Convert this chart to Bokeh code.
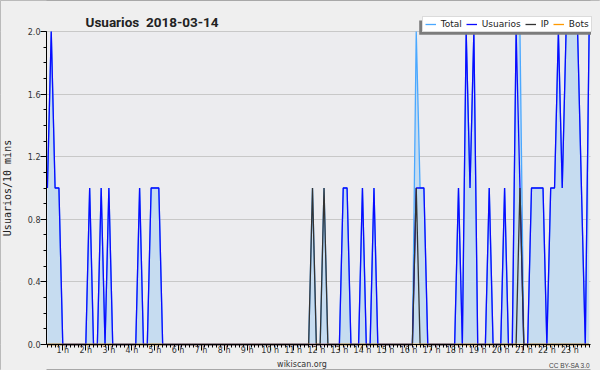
from bokeh.plotting import figure
from bokeh.models import (FixedTicker, Legend, LegendItem, BoxAnnotation, Label,
                          Range1d, ColumnDataSource)
from bokeh.embed import file_html
from bokeh.resources import INLINE

# ---- data: 10-minute samples (index 0 = 00:20) ----
usuarios = [1, 2, 1, 1, 0, 0, 0, 0, 0, 0,
            0, 1, 0, 0, 1, 0, 1, 0, 0, 0,
            0, 0, 0, 0, 1, 0, 0, 1, 1, 1,
            0, 0, 0, 0, 0, 0, 0, 0, 0, 0,
            0, 0, 0, 0, 0, 0, 0, 0, 0, 0,
            0, 0, 0, 0, 0, 0, 0, 0, 0, 0,
            0, 0, 0, 0, 0, 0, 0, 0, 0, 0,
            0, 0, 0, 0, 0, 0, 0, 1, 1, 0,
            0, 0, 1, 0, 0, 1, 0, 0, 0, 0,
            0, 0, 0, 0, 0, 0, 1, 1, 1, 0,
            0, 0, 0, 0, 0, 0, 0, 1, 0, 2,
            1, 2, 0, 0, 0, 1, 0, 0, 0, 1,
            0, 0, 2, 1, 0, 0, 1, 1, 1, 1,
            0, 1, 1, 2, 1, 2, 2, 2, 2, 1,
            0, 2]
ip = [0] * len(usuarios)
for k in (69, 72, 96, 123):
    ip[k] = 1
bots = [0] * len(usuarios)
total = [u + i + b for u, i, b in zip(usuarios, ip, bots)]
idx = list(range(len(usuarios)))

hours = list(range(1, 24))
hour_ticks = [6 * h - 2 for h in hours]
hour_labels = {6 * h - 2: f"{h} h" for h in hours}

y_major = [0.0, 0.4, 0.8, 1.2, 1.6, 2.0]
y_minor = [k / 10 for k in range(0, 21)]

# ---- colours ----
C_TOTAL = "#4aa8ff"
C_USU = "#0a0aff"
C_IP = "#333333"
C_BOTS = "#ff9900"
C_FILL = "#c6dcf0"
OUTER = "#efefef"
PLOTBG = "#ececef"

# ---- pixel layout (canvas = frame) ----
W, H = 600, 370
X0_PX, STEP_PX = 46.9, 3.842        # pixel of sample 0, pixels per sample
Y0_PX, UNIT_PX = 344.0, 156.5       # pixel of value 0, pixels per unit
PL, PR = 46, 590                    # plot area left / right


def px2x(px):
    return (px - X0_PX) / STEP_PX


def py2y(py):
    return (Y0_PX - py) / UNIT_PX


src = ColumnDataSource(dict(x=idx, usuarios=usuarios, ip=ip, bots=bots, total=total))

p = figure(width=W, height=H, output_backend="svg", toolbar_location=None, title=None,
           x_range=Range1d(px2x(0), px2x(W)), y_range=Range1d(py2y(H), py2y(0)),
           min_border=0, min_border_left=0, min_border_right=0,
           min_border_top=0, min_border_bottom=0)
p.background_fill_color = OUTER
p.border_fill_color = OUTER
p.outline_line_color = "#a8a8a8"

# plot-area background
p.add_layout(BoxAnnotation(left=px2x(PL), right=px2x(PR), bottom=0, top=2.0,
                           fill_color=PLOTBG, fill_alpha=1.0, line_color=None,
                           level="image"))

# grid
p.xgrid.grid_line_color = None
p.ygrid.ticker = FixedTicker(ticks=y_major)
p.ygrid.grid_line_color = "#c8c8c8"
p.ygrid.grid_line_width = 1

# covers to keep grid inside plot area
for l, r in ((px2x(0), px2x(PL)), (px2x(PR), px2x(W))):
    p.add_layout(BoxAnnotation(left=l, right=r, bottom=py2y(H), top=py2y(0),
                               fill_color=OUTER, fill_alpha=1.0, line_color=None,
                               level="glyph"))

# x axis
xa = p.xaxis[0]
xa.fixed_location = 0
xa.bounds = (px2x(PL), px2x(PR))
xa.ticker = FixedTicker(ticks=hour_ticks, minor_ticks=idx)
xa.major_label_overrides = hour_labels
xa.major_label_text_font = "DejaVu Sans"
xa.major_label_text_font_size = "8px"
xa.major_label_text_color = "#333333"
xa.major_label_standoff = -5
xa.major_tick_out = 6
xa.major_tick_in = 0
xa.minor_tick_out = 3
xa.minor_tick_in = 0
xa.axis_line_color = "black"
xa.major_tick_line_color = "black"
xa.minor_tick_line_color = "black"

# y axis
ya = p.yaxis[0]
ya.fixed_location = px2x(PL)
ya.bounds = (0, 2.0)
ya.ticker = FixedTicker(ticks=y_major, minor_ticks=y_minor)
ya.major_label_overrides = {v: f"{v:.1f}" for v in y_major}
ya.major_label_text_font = "DejaVu Sans"
ya.major_label_text_font_size = "8px"
ya.major_label_text_color = "#333333"
ya.major_label_standoff = 0
ya.major_tick_out = 6
ya.major_tick_in = 0
ya.minor_tick_out = 3
ya.minor_tick_in = 0
ya.axis_label = "Usuarios/10 mins"
ya.axis_label_text_font = "DejaVu Sans Mono"
ya.axis_label_text_font_style = "normal"
ya.axis_label_text_font_size = "10px"
ya.axis_label_text_color = "#222222"
ya.axis_label_standoff = 12

# series
p.varea(x="x", y1=0, y2="total", source=src, fill_color=C_FILL, fill_alpha=1.0)
r_total = p.line("x", "total", source=src, line_color=C_TOTAL, line_width=1.3)
r_usu = p.line("x", "usuarios", source=src, line_color=C_USU, line_width=1.3)
r_ip = p.line("x", "ip", source=src, line_color=C_IP, line_width=1.3)
r_bots = p.line("x", "bots", source=src, line_color=C_BOTS, line_width=1.3)

# legend shadow + legend
p.add_layout(BoxAnnotation(left=px2x(418.7), right=px2x(590.5),
                           top=py2y(20.0), bottom=py2y(34.3),
                           fill_color="#7c7c7c", fill_alpha=1.0, line_color=None,
                           level="annotation"))
legend = Legend(items=[LegendItem(label="Total", renderers=[r_total]),
                       LegendItem(label="Usuarios", renderers=[r_usu]),
                       LegendItem(label="IP", renderers=[r_ip]),
                       LegendItem(label="Bots", renderers=[r_bots])],
                orientation="horizontal", location=(421.7, H - 31.7),
                glyph_width=11, glyph_height=8, label_width=0, label_height=8,
                label_standoff=5, spacing=4, padding=2, margin=0,
                label_text_font="DejaVu Sans", label_text_font_size="9px",
                label_text_color="#222222",
                background_fill_color="white", background_fill_alpha=1.0,
                border_line_color="#b8b8b8", border_line_width=1)
p.add_layout(legend)

# title and footer texts
p.add_layout(Label(x=px2x(85), y=py2y(21.5), text="Usuarios \u00a02018-03-14",
                   text_font="Roboto", text_font_style="bold", text_font_size="13.5px",
                   text_color="#222222", text_baseline="alphabetic"))
p.add_layout(Label(x=px2x(301.5), y=py2y(363.5), text="wikiscan.org",
                   text_font="DejaVu Sans", text_font_size="8px", text_color="#333333",
                   text_align="center", text_baseline="alphabetic"))
p.add_layout(Label(x=px2x(589.5), y=py2y(365), text="CC BY-SA 3.0",
                   text_font="Liberation Sans", text_font_size="6.5px", text_color="#444444",
                   text_align="right", text_baseline="alphabetic"))

open("out.html", "w").write(file_html(p, INLINE))
